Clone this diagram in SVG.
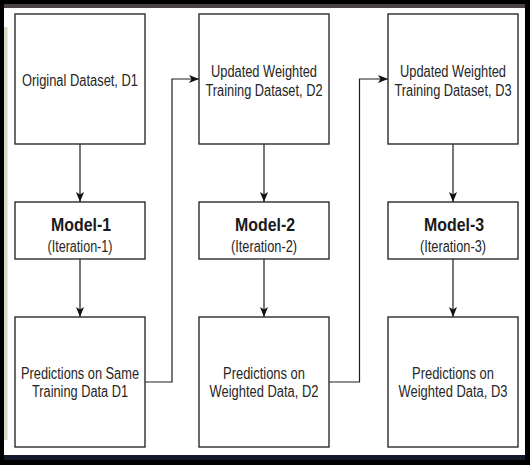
<svg xmlns="http://www.w3.org/2000/svg" width="530" height="465" viewBox="0 0 530 465">
<style>
.box{fill:#ffffff;stroke:#2b2b2b;stroke-width:1.4}
.t{font-family:"Liberation Sans",Arial,sans-serif;font-size:16px;fill:#262626;text-anchor:middle}
.b{font-family:"Liberation Sans",Arial,sans-serif;font-size:19px;font-weight:bold;fill:#1a1a1a;text-anchor:middle}
.c{fill:none;stroke:#1e1e1e;stroke-width:1.2}
</style>
<defs>
<marker id="ah" viewBox="0 0 10 8" refX="10" refY="4" markerWidth="10" markerHeight="8" markerUnits="userSpaceOnUse" orient="auto">
<path d="M0,0 L10,4 L0,8 L2.5,4 Z" fill="#111"/>
</marker>
</defs>
<rect x="0" y="0" width="530" height="465" fill="#000"/>
<rect x="4" y="8" width="521" height="447" fill="#fff"/>
<rect x="4" y="4" width="521" height="4" fill="#4a4343"/>
<rect x="4" y="27" width="3.5" height="413" fill="#d3dac5"/>
<rect x="4" y="455" width="521" height="5" fill="#151a2b"/>

<g id="connectors">
<path class="c" d="M80,144 V202" marker-end="url(#ah)"/>
<path class="c" d="M80,259 V317" marker-end="url(#ah)"/>
<path class="c" d="M264,144 V202" marker-end="url(#ah)"/>
<path class="c" d="M264,259 V317" marker-end="url(#ah)"/>
<path class="c" d="M453,144 V202" marker-end="url(#ah)"/>
<path class="c" d="M453,259 V317" marker-end="url(#ah)"/>
<path class="c" d="M145,382 H172 V79 H199" marker-end="url(#ah)"/>
<path class="c" d="M329,382 H359.5 V79 H388" marker-end="url(#ah)"/>
</g>

<g id="d1">
<rect class="box" x="15" y="14" width="130" height="130"/>
<text class="t" x="80" y="85.5" textLength="116" lengthAdjust="spacingAndGlyphs">Original Dataset, D1</text>
</g>
<g id="model1">
<rect class="box" x="15" y="202" width="130" height="57"/>
<text class="b" x="81" y="231" textLength="60" lengthAdjust="spacingAndGlyphs">Model-1</text>
<text class="t" x="80" y="251.5" textLength="65" lengthAdjust="spacingAndGlyphs">(Iteration-1)</text>
</g>
<g id="pred1">
<rect class="box" x="15" y="317" width="130" height="130"/>
<text class="t" x="80" y="378.5" textLength="118" lengthAdjust="spacingAndGlyphs">Predictions on Same</text>
<text class="t" x="80" y="397" textLength="96" lengthAdjust="spacingAndGlyphs">Training Data D1</text>
</g>

<g id="d2">
<rect class="box" x="199" y="14" width="130" height="130"/>
<text class="t" x="264" y="77" textLength="106" lengthAdjust="spacingAndGlyphs">Updated Weighted</text>
<text class="t" x="264" y="95.5" textLength="117" lengthAdjust="spacingAndGlyphs">Training Dataset, D2</text>
</g>
<g id="model2">
<rect class="box" x="199" y="202" width="130" height="57"/>
<text class="b" x="265" y="231" textLength="60" lengthAdjust="spacingAndGlyphs">Model-2</text>
<text class="t" x="264" y="251.5" textLength="66" lengthAdjust="spacingAndGlyphs">(Iteration-2)</text>
</g>
<g id="pred2">
<rect class="box" x="199" y="317" width="130" height="130"/>
<text class="t" x="264" y="378.5" textLength="82" lengthAdjust="spacingAndGlyphs">Predictions on</text>
<text class="t" x="264" y="397" textLength="109" lengthAdjust="spacingAndGlyphs">Weighted Data, D2</text>
</g>

<g id="d3">
<rect class="box" x="388" y="14" width="130" height="130"/>
<text class="t" x="453" y="77" textLength="106" lengthAdjust="spacingAndGlyphs">Updated Weighted</text>
<text class="t" x="453" y="95.5" textLength="117" lengthAdjust="spacingAndGlyphs">Training Dataset, D3</text>
</g>
<g id="model3">
<rect class="box" x="388" y="202" width="130" height="57"/>
<text class="b" x="454" y="231" textLength="60" lengthAdjust="spacingAndGlyphs">Model-3</text>
<text class="t" x="453" y="251.5" textLength="66" lengthAdjust="spacingAndGlyphs">(Iteration-3)</text>
</g>
<g id="pred3">
<rect class="box" x="388" y="317" width="130" height="130"/>
<text class="t" x="453" y="378.5" textLength="82" lengthAdjust="spacingAndGlyphs">Predictions on</text>
<text class="t" x="453" y="397" textLength="109" lengthAdjust="spacingAndGlyphs">Weighted Data, D3</text>
</g>
</svg>
